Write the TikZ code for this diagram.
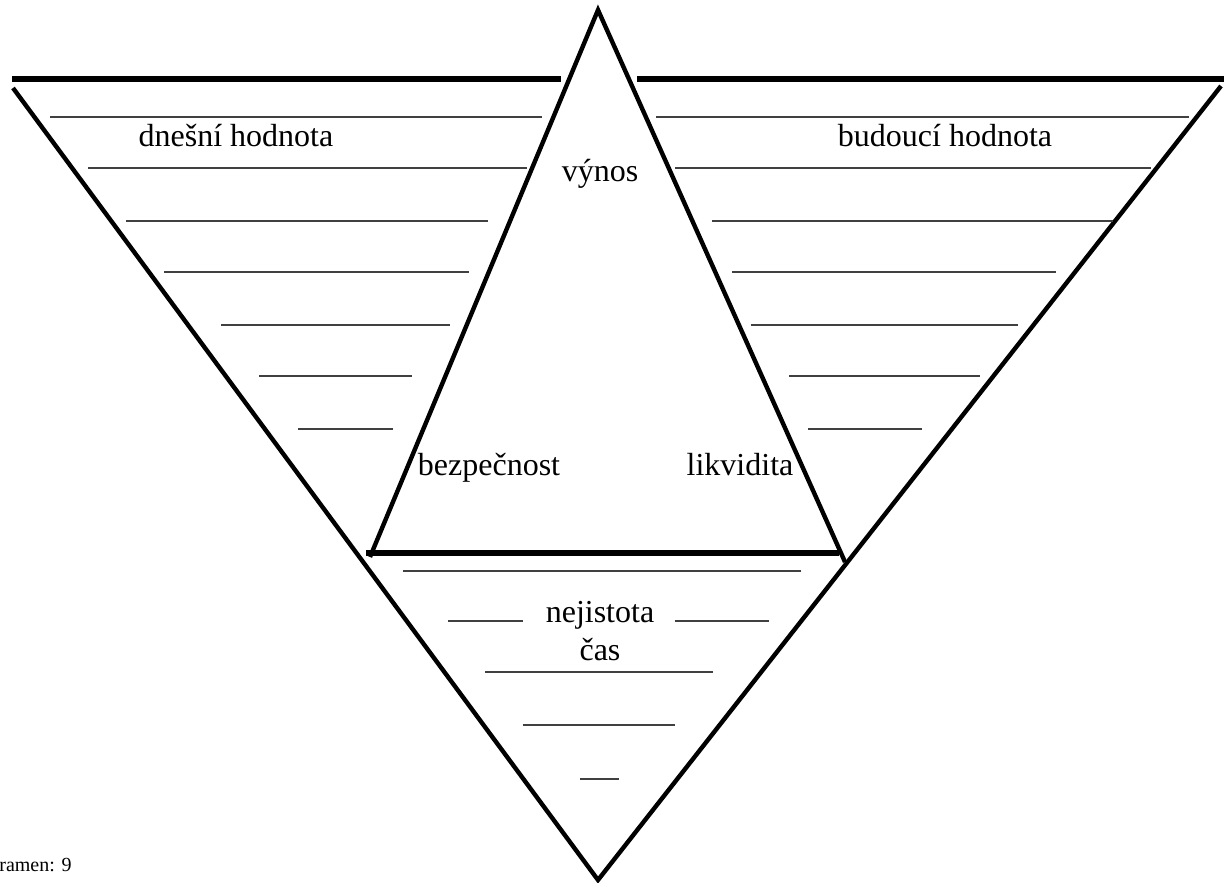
\documentclass[tikz,border=0pt]{standalone}
\usepackage{fontspec}
\setmainfont{Liberation Serif}
\begin{document}
\begin{tikzpicture}[x=0.5pt,y=-0.5pt,
  thickedge/.style={line width=2.6pt,line cap=butt},
  sideedge/.style={line width=2.2pt,line cap=butt,line join=miter},
  blank/.style={line width=0.8pt,color=black!75},
  lbl/.style={anchor=base,inner sep=0pt,font=\fontsize{16}{19}\selectfont},
  src/.style={anchor=base west,inner sep=0pt,font=\fontsize{10}{12}\selectfont}]
\useasboundingbox (0,0) rectangle (1224,882);
% big inverted triangle
\coordinate (TL) at (13,88);
\coordinate (TR) at (1221,86);
\coordinate (B) at (598,880);
\draw[sideedge] (TL) -- (B) -- (TR);
% top lines
\coordinate (HL1) at (12,79);
\coordinate (HL2) at (561,79);
\coordinate (HR1) at (637,79);
\coordinate (HR2) at (1224,79);
\draw[thickedge] (HL1) -- (HL2);
\draw[thickedge] (HR1) -- (HR2);
% inner triangle
\coordinate (A) at (598,10);
\coordinate (L) at (370,557);
\coordinate (R) at (845,562);
\draw[sideedge] (L) -- (A) -- (R);
\coordinate (BL) at (366,553);
\coordinate (BR) at (839,553);
\draw[thickedge] (BL) -- (BR);
% left blanks
\foreach \y/\a/\b in {117/50/542, 168/88/527, 221/126/488, 272/164/469, 325/221/450, 376/259/412, 429/298/393}
  \draw[blank] (\a,\y) -- (\b,\y);
% right blanks
\foreach \y/\a/\b in {117/656/1189, 168/675/1151, 221/712/1113, 272/732/1056, 325/751/1018, 376/789/980, 429/808/922}
  \draw[blank] (\a,\y) -- (\b,\y);
% bottom blanks
\foreach \y/\a/\b in {571/403/801, 621/448/523, 621/675/769, 672/485/713, 725/523/675, 779/580/619}
  \draw[blank] (\a,\y) -- (\b,\y);
% labels
\node[lbl] (dnes) at (236,147) {dnešní hodnota};
\node[lbl] (bud) at (945,147) {budoucí hodnota};
\node[lbl] (vyn) at (600,182) {výnos};
\node[lbl] (bez) at (489,475) {bezpečnost};
\node[lbl] (lik) at (740,475) {likvidita};
\node[lbl] (nej) at (600,622) {nejistota};
\node[lbl] (cas) at (600,660) {čas};
\node[src] (pr) at (-1,871) {ramen: 9};
\end{tikzpicture}
\end{document}
